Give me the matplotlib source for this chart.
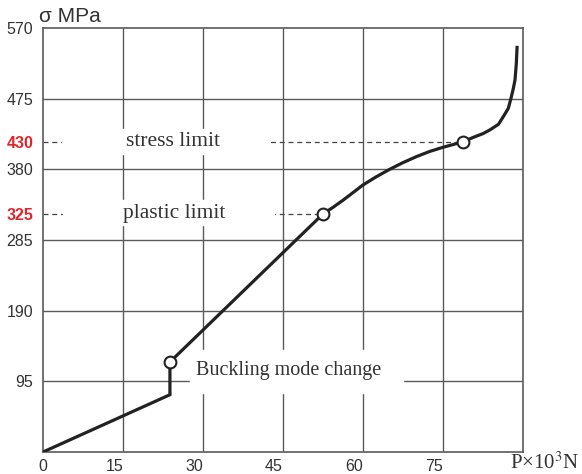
import numpy as np
from matplotlib import pyplot as plt
from matplotlib.patches import Rectangle

# x ticks (P x 10^3 N) and y ticks (sigma, MPa)
x_ticks = [0, 15, 30, 45, 60, 75]
y_ticks = [95, 190, 285, 380, 475, 570]

# load curve
elastic_x = [0, 23.8, 23.8]
elastic_y = [0, 77, 121]
curve_x = [23.8, 52.5, 54.4, 56.3, 58, 60, 62.5, 65, 67.5, 70, 72.5, 75, 77, 78.75,
           80.7, 82.5, 83.8, 85.4, 86.3, 87.25, 87.75, 88.2, 88.5, 88.75, 88.9]
curve_y = [121, 320, 329, 338.7, 348, 359, 370, 380, 389, 397, 404, 409.6, 413.5, 417,
           423, 428, 433, 440.5, 450.7, 462, 475.5, 489, 500, 522, 546]

# marked points: buckling change, plastic limit, stress limit
mark_x = [23.8, 52.5, 78.75]
mark_y = [121, 320, 417]

# limit labels (drawn level with the marked points, as in the picture)
limit_labels = ["430", "325"]
limit_y = [417, 320]
limit_x = [78.75, 52.5]
limit_names = ["stress limit", "plastic limit"]

grid_col = "#5a5a5a"
line_col = "#222222"
text_col = "#333333"

fig = plt.figure(figsize=(5.82, 4.74), dpi=100)
ax = fig.add_axes([0.0739, 0.0464, 0.8247, 0.8946])
ax.set_xlim(0, 90)
ax.set_ylim(0, 570)

# grid lines
for xv in x_ticks[1:]:
    ax.axvline(xv, color=grid_col, lw=1.0, zorder=1)
for yv in y_ticks[:-1]:
    ax.axhline(yv, color=grid_col, lw=1.0, zorder=1)
for s in ax.spines.values():
    s.set_color(grid_col)
    s.set_linewidth(1.2)

# dashed limit lines up to the marked points
for lx, ly in zip(limit_x, limit_y):
    ax.plot([0, lx], [ly, ly], color="#444444", lw=0.9, ls=(0, (4, 3)), zorder=1.5)

# white boxes behind the labels that cut the grid
ax.add_patch(Rectangle((3.6, 400), 38.6, 34, color="white", zorder=2))
ax.add_patch(Rectangle((3.8, 305), 39.6, 34, color="white", zorder=2))
ax.add_patch(Rectangle((27.6, 79), 39.9, 58, color="white", zorder=2))

ax.text(24.4, limit_y[0], limit_names[0], family="Liberation Serif", fontsize=15.5,
        color=text_col, ha="center", va="center", zorder=3)
ax.text(24.6, limit_y[1], limit_names[1], family="Liberation Serif", fontsize=15.5,
        color=text_col, ha="center", va="center", zorder=3)
ax.text(46, 110, "Buckling mode change", family="Liberation Serif", fontsize=14.5,
        color=text_col, ha="center", va="center", zorder=3)

# the curve
ax.plot(elastic_x, elastic_y, color=line_col, lw=2.3, solid_joinstyle="miter", zorder=4)
ax.plot(curve_x, curve_y, color=line_col, lw=2.3, solid_capstyle="butt",
        solid_joinstyle="round", zorder=4)
ax.plot(mark_x, mark_y, "o", ms=8.5, mfc="white", mec=line_col, mew=1.5, zorder=5)

# ticks
ax.set_xticks(x_ticks)
ax.set_yticks(y_ticks + limit_y)
ax.set_yticklabels([str(v) for v in y_ticks] + limit_labels)
ax.tick_params(length=0, labelsize=11.5, labelcolor=text_col)
ax.tick_params(axis="y", pad=7)
ax.tick_params(axis="x", pad=5)
for lab in ax.get_xticklabels() + ax.get_yticklabels():
    lab.set_family("Liberation Sans")
for lab in ax.get_xticklabels()[1:]:
    lab.set_horizontalalignment("right")
for lab in ax.get_yticklabels()[-2:]:
    lab.set_color("#e0262a")
    lab.set_fontweight("bold")

fig.text(0.067, 0.953, "σ MPa", family="Liberation Sans", fontsize=15, color=text_col)
fig.text(0.876, 0.012, "P×10$^3$N", family="Liberation Serif", fontsize=15,
         color=text_col, math_fontfamily="stix")

fig.savefig("out.png", dpi=100)
